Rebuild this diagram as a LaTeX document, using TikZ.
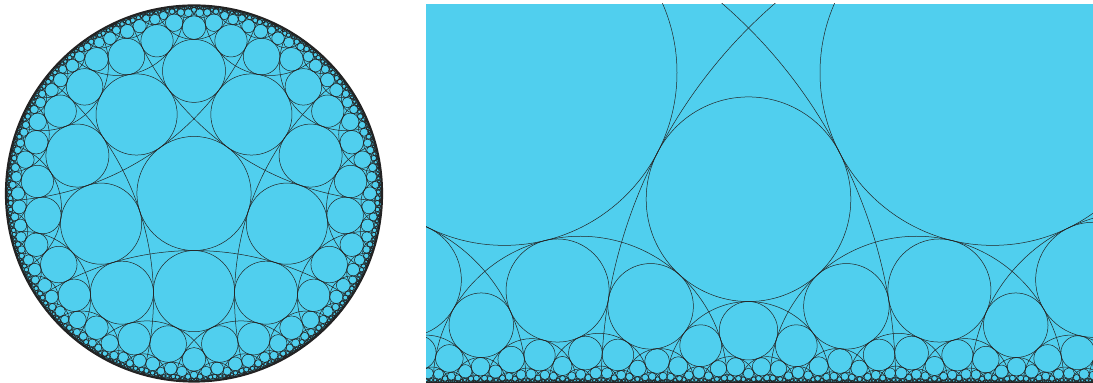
\documentclass[tikz,border=0pt]{standalone}

\definecolor{poolblue}{RGB}{80,207,238}
\definecolor{tileline}{RGB}{35,35,35}
\tikzset{
  tile ring/.style={draw=tileline, line width=0.25pt},
  tile edge/.style={draw=tileline, line width=0.25pt},
  rim/.style={draw=tileline, line width=1.1pt}
}

% {5,4} tiling, lengths scaled by U = 2^26
\def\U{67108864}
\edef\chin{\fpeval{cos(pi/4)/sin(pi/5)}}
\edef\shin{\fpeval{sqrt(\chin^2-1)}}
\edef\chinN{\fpeval{round(\chin*\U)}}
\edef\shinN{\fpeval{round(\shin*\U)}}
\edef\rzero{\fpeval{round(\U*sqrt((\chin-1)/(\chin+1)))}}
\edef\rzerosq{\fpeval{round(\rzero^2/\U)}}
\edef\rvert{\fpeval{round(\U*sqrt((cot(pi/5)-1)/(cot(pi/5)+1)))}}

\newcount\tcount
\newcount\tidx
\newif\ifkeep
\newif\ifdrawit

\def\abs#1{\ifnum#1<0 -\fi#1}
\def\absd#1{\ifdim\dimexpr#1\relax<0pt -\fi\dimexpr#1\relax}

% tile store and lookup cells
\def\markcell#1#2#3{\expandafter\gdef\csname#1@\the\numexpr#2\relax @\the\numexpr#3\relax\endcsname{}}
\def\markall#1#2#3{%
  \markcell{#1}{#2-1}{#3-1}\markcell{#1}{#2-1}{#3}\markcell{#1}{#2-1}{#3+1}%
  \markcell{#1}{#2}{#3-1}\markcell{#1}{#2}{#3}\markcell{#1}{#2}{#3+1}%
  \markcell{#1}{#2+1}{#3-1}\markcell{#1}{#2+1}{#3}\markcell{#1}{#2+1}{#3+1}}
\def\addtile#1#2{%
  \global\advance\tcount1
  \expandafter\xdef\csname cx\the\tcount\endcsname{#1}%
  \expandafter\xdef\csname cy\the\tcount\endcsname{#2}%
  \expandafter\xdef\csname kx\the\tcount\endcsname{\the\numexpr(#1)/16384\relax}%
  \expandafter\xdef\csname ky\the\tcount\endcsname{\the\numexpr(#2)/16384\relax}%
  \markall{s\view}{\csname kx\the\tcount\endcsname}{\csname ky\the\tcount\endcsname}}
\def\setvert#1#2#3{%
  \expandafter\xdef\csname vx\the\tcount-#1\endcsname{#2}%
  \expandafter\xdef\csname vy\the\tcount-#1\endcsname{#3}}

% geodesic through a and b, and reflection in it
\def\geodesic{%
  \edef\ka{\the\numexpr(\U+\ax*\ax/\U+\ay*\ay/\U)/2\relax}%
  \edef\kb{\the\numexpr(\U+\bx*\bx/\U+\by*\by/\U)/2\relax}%
  \edef\dt{\the\numexpr\ax*\by/4194304-\ay*\bx/4194304\relax}%
  \edef\gx{\the\numexpr(\ka*\by/4194304-\kb*\ay/4194304)*\U/\dt\relax}%
  \edef\gy{\the\numexpr(\kb*\ax/4194304-\ka*\bx/4194304)*\U/\dt\relax}%
  \edef\rx{\the\numexpr\ax-\gx\relax}%
  \edef\ry{\the\numexpr\ay-\gy\relax}%
  \ifnum\numexpr\abs\rx+\abs\ry\relax<4194304 \def\dv{262144}\else\def\dv{67108864}\fi
  \edef\rtwo{\the\numexpr\rx*\rx/\dv+\ry*\ry/\dv\relax}}
\def\reflect#1#2#3#4{%
  \edef\ddx{\the\numexpr#1-\gx\relax}%
  \edef\ddy{\the\numexpr#2-\gy\relax}%
  \edef\ff{\the\numexpr\rtwo*\U/(\ddx*\ddx/\dv+\ddy*\ddy/\dv)\relax}%
  \edef#3{\the\numexpr\gx+\ddx*\ff/\U\relax}%
  \edef#4{\the\numexpr\gy+\ddy*\ff/\U\relax}}

% disk view
\def\ringD{%
  \edef\ttwo{\the\numexpr\cx*\cx/\U+\cy*\cy/\U\relax}%
  \edef\rden{\the\numexpr\U-\ttwo*\rzerosq/\U\relax}%
  \edef\rr{\the\numexpr\rzero*(\U-\ttwo)/\rden\relax}%
  \edef\ff{\the\numexpr(\U-\rzerosq)*\U/\rden\relax}%
  \edef\qx{\the\dimexpr97pt+94pt*\numexpr\cx*\ff/\U\relax/\U\relax}%
  \edef\qy{\the\dimexpr94.75pt+94pt*\numexpr\cy*\ff/\U\relax/\U\relax}%
  \edef\qr{\the\dimexpr94pt*\rr/\U\relax}%
  \draw[tile ring] (\qx,\qy) circle[radius=\qr];}
\def\keepD{%
  \edef\ttwo{\the\numexpr\nx*\nx/\U+\ny*\ny/\U\relax}%
  \ifnum\numexpr\rzero*(\U-\ttwo)/(\U-\ttwo*\rzerosq/\U)\relax<285570 \keepfalse\else\keeptrue\fi}
\def\edgeD{%
  \edef\qx{\the\dimexpr97pt+94pt*\ax/\U\relax}%
  \edef\qy{\the\dimexpr94.75pt+94pt*\ay/\U\relax}%
  \edef\arcst{\fpeval{round(atand((\ay)-(\gy),(\ax)-(\gx)),4)}}%
  \edef\arcdl{\fpeval{atand((\by)-(\gy),(\bx)-(\gx))-(\arcst)}}%
  \edef\arcdl{\fpeval{round(\arcdl-360*round(\arcdl/360),4)}}%
  \edef\arcr{\fpeval{round(94*sqrt(\rtwo*\dv)/\U,4)}}%
  \draw[tile edge] (\qx,\qy) arc[start angle=\arcst, delta angle=\arcdl, radius=\arcr pt];}

% half-plane view
\def\tohalf#1#2#3#4{%
  \edef\hden{\the\numexpr#1*#1/\U+(\U-#2)*(\U-#2)/\U\relax}%
  \edef#3{\the\dimexpr374.25pt+153pt*#1/\hden\relax}%
  \edef#4{\the\dimexpr76.5pt*\numexpr\U-#1*#1/\U-#2*#2/\U\relax/\hden\relax}}
\def\ringH{%
  \tohalf\cx\cy\hx\hh
  \edef\qr{\the\dimexpr\hh*\shinN/\U\relax}%
  \edef\qy{\the\dimexpr\hh*\chinN/\U-0.15pt\relax}%
  \ifdim\dimexpr\hx+\qr\relax<213pt\else
  \ifdim\dimexpr\hx-\qr\relax>546.5pt\else
  \ifdim\dimexpr\qy-\qr\relax>189.5pt\else
    \draw[tile ring] (\hx,\qy) circle[radius=\qr];
  \fi\fi\fi}
\def\keepH{%
  \keepfalse
  \ifnum\numexpr\nx*\nx/\U+(\U-\ny)*(\U-\ny)/\U\relax>301990
    \tohalf\nx\ny\hx\hh
    \ifdim\hh<0.598pt\else
    \ifdim\hh>459pt\else
    \ifdim\hx<\dimexpr198.25pt-\hh*5/2\relax\else
    \ifdim\hx>\dimexpr561.65pt+\hh*5/2\relax\else
      \keeptrue
    \fi\fi\fi\fi
  \fi}
\def\edgeH{%
  \tohalf\ax\ay\xa\ha
  \tohalf\bx\by\xb\hb
  \drawittrue
  \ifdim\xa<213pt \ifdim\xb<213pt \drawitfalse\fi\fi
  \ifdim\xa>546.5pt \ifdim\xb>546.5pt \drawitfalse\fi\fi
  \ifdim\ha>189.65pt \ifdim\hb>189.65pt \drawitfalse\fi\fi
  \ifdrawit
    \edef\ya{\the\dimexpr\ha-0.15pt\relax}%
    \edef\yb{\the\dimexpr\hb-0.15pt\relax}%
    \edef\gap{\the\dimexpr(\absd{\ha-\hb})*\number\dimexpr\ha+\hb\relax/1048576000\relax}%
    \edef\adx{\the\dimexpr\absd{\xa-\xb}\relax}%
    \ifdim\gap<\adx
      \edef\xo{\the\dimexpr(\xa+\xb)/2+(\ha-\hb)*\number\dimexpr\ha+\hb\relax/\number\dimexpr2\dimexpr\xa-\xb\relax\relax\relax}%
      \edef\arcst{\fpeval{round(atand(\number\dimexpr\ha\relax,\number\dimexpr\xa-\xo\relax),4)}}%
      \edef\arcen{\fpeval{round(atand(\number\dimexpr\hb\relax,\number\dimexpr\xb-\xo\relax),4)}}%
      \edef\arcr{\fpeval{round(sqrt((\number\dimexpr\xa-\xo\relax)^2+(\number\dimexpr\ha\relax)^2)/65536,4)}}%
      \draw[tile edge] (\xa,\ya) arc[start angle=\arcst, end angle=\arcen, radius=\arcr pt];
    \else
      \draw[tile edge] (\xa,\ya) -- (\xb,\yb);
    \fi
  \fi}

% one tile: ring, edges, new neighbours
\def\dotile{%
  \edef\cx{\csname cx\the\tidx\endcsname}%
  \edef\cy{\csname cy\the\tidx\endcsname}%
  \markall{d\view}{\csname kx\the\tidx\endcsname}{\csname ky\the\tidx\endcsname}%
  \ringat
  \foreach \ei/\ej in {1/2,2/3,3/4,4/5,5/1}{%
    \edef\ax{\csname vx\the\tidx-\ei\endcsname}%
    \edef\ay{\csname vy\the\tidx-\ei\endcsname}%
    \edef\bx{\csname vx\the\tidx-\ej\endcsname}%
    \edef\by{\csname vy\the\tidx-\ej\endcsname}%
    \geodesic
    \reflect\cx\cy\nx\ny
    \edef\kx{\the\numexpr\nx/16384\relax}%
    \edef\ky{\the\numexpr\ny/16384\relax}%
    \ifcsname s\view @\kx @\ky\endcsname\else
      \keeptest
      \ifkeep
        \addtile\nx\ny
        \foreach \vk in {1,...,5}{%
          \reflect{\csname vx\the\tidx-\vk\endcsname}{\csname vy\the\tidx-\vk\endcsname}\px\py
          \setvert\vk\px\py}%
      \fi
    \fi
    \ifcsname d\view @\kx @\ky\endcsname\else\edgeline\fi}}
\def\walk{%
  \ifnum\tidx<\tcount
    \global\advance\tidx1
    \dotile
    \expandafter\walk
  \fi}
\def\starttiling{%
  \global\tcount0
  \global\tidx0
  \addtile{0}{0}%
  \foreach \vk in {1,...,5}{%
    \setvert\vk{\fpeval{round(\rvert*cosd(18+72*\vk))}}{\fpeval{round(\rvert*sind(18+72*\vk))}}}%
  \walk}

\begin{document}
\begin{tikzpicture}
  \useasboundingbox (0,0) rectangle (546.5pt,191.5pt);

  % disk
  \fill[poolblue] (97pt,94.75pt) circle[radius=94pt];
  \def\view{d}\let\ringat\ringD\let\keeptest\keepD\let\edgeline\edgeD
  \starttiling
  \draw[rim] (97pt,94.75pt) circle[radius=94pt];

  % half-plane
  \begin{scope}
    \clip (213pt,0pt) rectangle (546.5pt,189.5pt);
    \fill[poolblue] (213pt,0pt) rectangle (546.5pt,189.5pt);
    \def\view{h}\let\ringat\ringH\let\keeptest\keepH\let\edgeline\edgeH
    \starttiling
    \draw[rim] (213pt,0pt) -- (546.5pt,0pt);
  \end{scope}
\end{tikzpicture}
\end{document}
